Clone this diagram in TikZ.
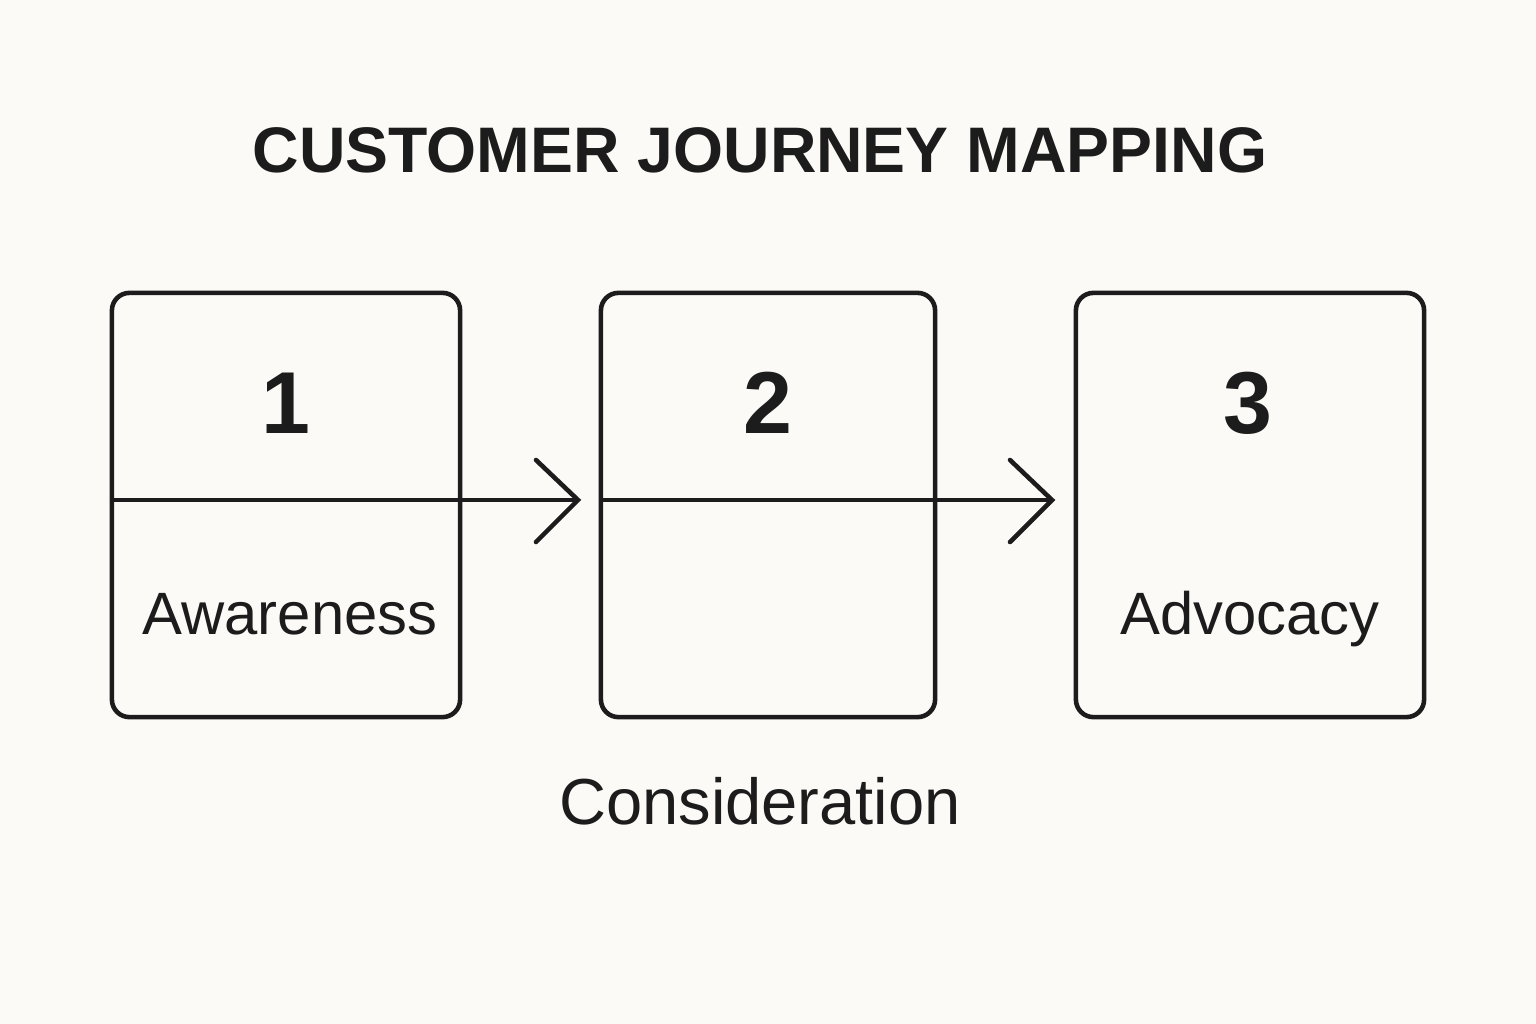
\documentclass[tikz,border=0pt]{standalone}
\usepackage{fontspec}
\setmainfont{Liberation Sans}
\usetikzlibrary{positioning}
\definecolor{ink}{HTML}{1C1C1C}
\definecolor{paper}{HTML}{FBFAF6}
\tikzset{
  stage/.style={draw=ink, line width=1.3pt, rounded corners=5pt, minimum height=4.24cm},
  num/.style={font=\fontsize{25}{30}\selectfont\bfseries, text=ink},
  lbl/.style={font=\fontsize{17}{20}\selectfont, text=ink, anchor=base},
  flow/.style={draw=ink, line width=1.3pt},
  chev/.style={draw=ink, line width=1.3pt, line cap=round, line join=miter}
}
\begin{document}
\begin{tikzpicture}[x=0.01cm, y=-0.01cm]
    % Fond
    \fill[paper] (0,0) rectangle (1536,1024);
    \useasboundingbox (0,0) rectangle (1536,1024);

    % Titre
    \node[font=\fontsize{18.3}{22}\selectfont\bfseries, text=ink] (title) at (760,150) {CUSTOMER JOURNEY MAPPING};

    % Etapes
    \node[stage, minimum width=3.48cm] (s1) at (286,505) {};
    \node[stage, minimum width=3.34cm] (s2) at (768,505) {};
    \node[stage, minimum width=3.48cm] (s3) at (1250,505) {};

    \node[num] (n1) at (286,403) {1};
    \node[num] (n2) at (768,403) {2};
    \node[num] (n3) at (1248,403) {3};

    \node[lbl] (l1) at (290,634) {Awareness};
    \node[lbl] (l3) at (1250,634) {Advocacy};
    \node[lbl, font=\fontsize{18.5}{22}\selectfont] (l2) at (760,824) {Consideration};

    % Fleches
    \coordinate (a1) at (578,500);
    \coordinate (a2) at (1052,500);
    \draw[flow] (s1.west |- a1) -- (a1);
    \draw[flow] (s2.west |- a2) -- (a2);
    \draw[chev] (536,460) -- (a1) -- (536,542);
    \draw[chev] (1010,460) -- (a2) -- (1010,542);
\end{tikzpicture}
\end{document}
